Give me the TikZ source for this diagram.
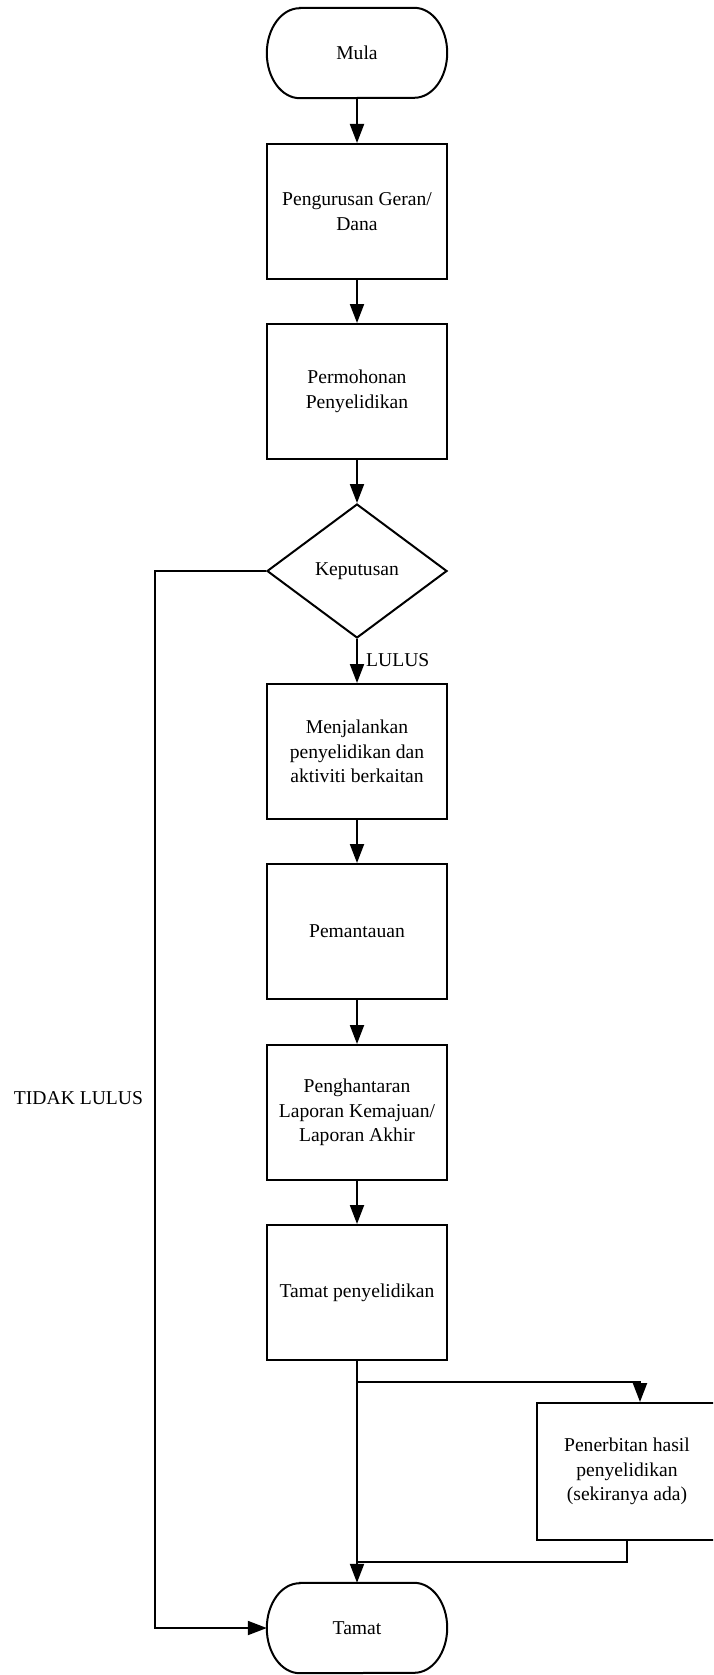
\documentclass[tikz,border=0pt]{standalone}
\usepackage{fontspec}
\setmainfont{Liberation Serif}
\usetikzlibrary{shapes.geometric,arrows.meta}
\begin{document}
\begin{tikzpicture}[x=1pt,y=-1pt,
  every node/.style={font=\fontsize{19.6}{24.5}\selectfont, align=center, inner sep=0pt},
  procbox/.style={draw, line width=2pt, minimum width=180pt, minimum height=135pt},
  termbox/.style={minimum width=180pt, minimum height=90pt},
  decbox/.style={draw, line width=2pt, diamond, minimum width=180pt, minimum height=134pt, aspect=1.343},
  conn/.style={line width=2pt, -{Triangle[length=19pt,width=14pt]}},
  line/.style={line width=2pt}]
\clip (0,0) rectangle (713,1675);
\fill[white] (0,0) rectangle (713,1675);
% terminators
\node[termbox] (mula) at (357,53) {Mula};
\node[termbox] (tamat) at (357,1628) {Tamat};
\foreach \n in {mula,tamat}{
  \draw[line width=2pt] ([xshift=33pt]\n.north west) -- ([xshift=-33pt]\n.north east)
    arc[start angle=90,end angle=-90,x radius=33pt,y radius=45pt]
    -- ([xshift=33pt]\n.south west)
    arc[start angle=270,end angle=90,x radius=33pt,y radius=45pt] -- cycle;
}
% process boxes
\node[procbox] (b1) at (357,211.5) {Pengurusan Geran/\\Dana};
\node[procbox] (b2) at (357,391.5) {Permohonan\\Penyelidikan};
\node[decbox] (d) at (357,571) {Keputusan};
\node[procbox] (b3) at (357,751.5) {Menjalankan\\penyelidikan dan\\aktiviti berkaitan};
\node[procbox] (b4) at (357,931.5) {Pemantauan};
\node[procbox] (b5) at (357,1112.5) {Penghantaran\\Laporan Kemajuan/\\Laporan Akhir};
\node[procbox] (b6) at (357,1292.5) {Tamat penyelidikan};
\node[procbox, minimum height=137pt] (pen) at (627,1471.5) {Penerbitan hasil\\penyelidikan\\(sekiranya ada)};
% labels
\node[anchor=west] (lulus) at (366,660) {LULUS};
\node (tidak) at (78.5,1098.5) {TIDAK LULUS};
% connectors
\draw[conn] (mula) -- (b1);
\draw[conn] (b1) -- (b2);
\draw[conn] (b2) -- (d.north);
\draw[conn] (d.south) -- (b3);
\draw[conn] (b3) -- (b4);
\draw[conn] (b4) -- (b5);
\draw[conn] (b5) -- (b6);
\draw[conn] (b6) -- (tamat);
\coordinate (lx) at (155,571);
\draw[conn] (d.west) -- (lx) |- (tamat.west);
\coordinate (br) at (357,1382);
\coordinate (bt) at (640,1382);
\draw[conn] (br) -- (bt) -- (bt |- pen.north);
\coordinate (rj) at (357,1562);
\draw[line] (pen.south) |- (rj);
\end{tikzpicture}
\end{document}
